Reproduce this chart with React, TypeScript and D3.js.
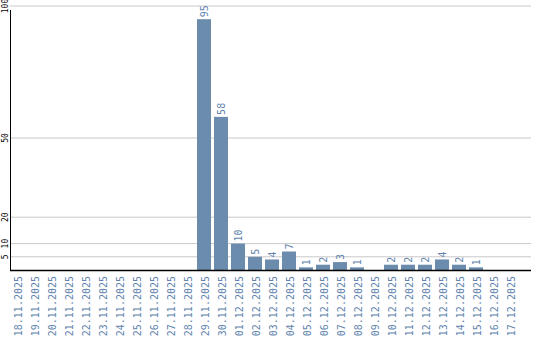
import React from "react";
import * as d3 from "d3";

const categories = [
  "18.11.2025","19.11.2025","20.11.2025","21.11.2025","22.11.2025","23.11.2025",
  "24.11.2025","25.11.2025","26.11.2025","27.11.2025","28.11.2025","29.11.2025",
  "30.11.2025","01.12.2025","02.12.2025","03.12.2025","04.12.2025","05.12.2025",
  "06.12.2025","07.12.2025","08.12.2025","09.12.2025","10.12.2025","11.12.2025",
  "12.12.2025","13.12.2025","14.12.2025","15.12.2025","16.12.2025","17.12.2025",
];
const values = [0,0,0,0,0,0,0,0,0,0,0,95,58,10,5,4,7,1,2,3,1,0,2,2,2,4,2,1,0,0];
const yTicks = [5, 10, 20, 50, 100];

export default function App() {
  const W = 540, H = 340;
  const left = 10, right = 531, top = 6, bottom = 270;
  const y = d3.scaleLinear().domain([0, 100]).range([bottom, top]);
  const x = d3.scaleBand<string>().domain(categories).range([left, left + 17 * categories.length]).paddingInner(0).paddingOuter(0);
  const step = x.step();
  const barW = 14;
  const barColor = "#6b8cad";
  const textColor = "#5f84ad";
  const font = "'DejaVu Sans Mono', monospace";

  return (
    <svg width={W} height={H} style={{ position: "absolute", left: 0, top: 0 }}>
      <rect width={W} height={H} fill="#fff" />
      {yTicks.map((t) => (
        <g key={t}>
          <line x1={left} x2={right} y1={y(t)} y2={y(t)} stroke="#c8c8c8" strokeWidth={1} />
          <text
            transform={`translate(8,${y(t)}) rotate(-90)`}
            textAnchor="middle"
            fontFamily={font}
            fontSize={8}
            fill="#000"
          >
            {t}
          </text>
        </g>
      ))}
      {categories.map((c, i) => {
        const v = values[i];
        const bx = (x(c) as number);
        return (
          <g key={c}>
            {v > 0 && (
              <rect x={bx} y={y(v)} width={barW} height={bottom - y(v)} fill={barColor} />
            )}
            {v > 0 && (
              <text
                transform={`translate(${bx + barW / 2 + 4},${y(v) - 2}) rotate(-90)`}
                textAnchor="start"
                fontFamily={font}
                fontSize={10}
                fill={textColor}
              >
                {v}
              </text>
            )}
            <text
              transform={`translate(${bx + step / 2 + 3},${bottom + 6}) rotate(-90)`}
              textAnchor="end"
              fontFamily={font}
              fontSize={10}
              fill={textColor}
            >
              {c}
            </text>
          </g>
        );
      })}
      <line x1={left + 0.5} x2={left + 0.5} y1={10} y2={bottom} stroke="#000" strokeWidth={1} />
      <line x1={left} x2={right} y1={bottom + 0.5} y2={bottom + 0.5} stroke="#000" strokeWidth={1.5} />
    </svg>
  );
}
